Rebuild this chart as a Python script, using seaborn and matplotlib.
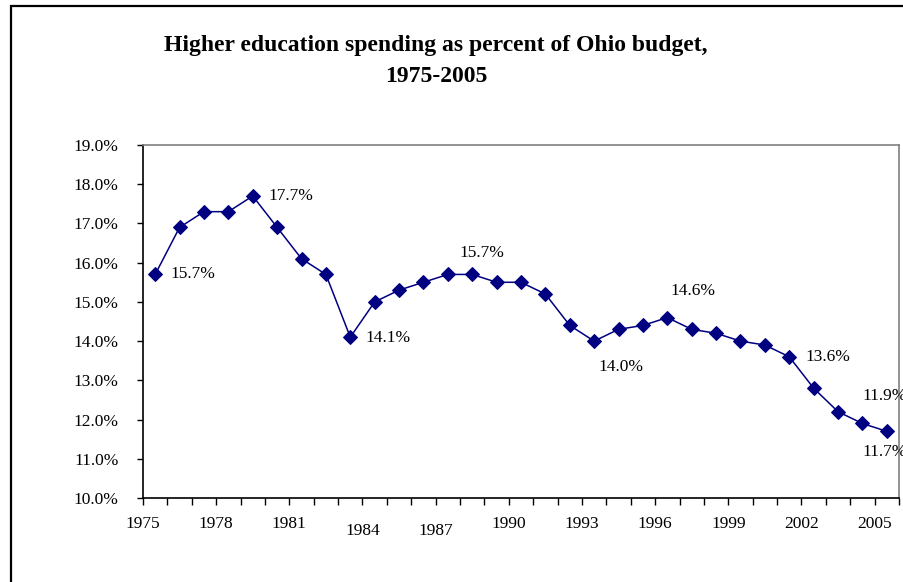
import numpy as np
import pandas as pd
import seaborn as sns
import matplotlib.pyplot as plt
from matplotlib.patches import Rectangle
from matplotlib.ticker import FixedLocator, FuncFormatter

# data
years = list(range(1975, 2006))
share = [15.7, 16.9, 17.3, 17.3, 17.7, 16.9, 16.1, 15.7, 14.1, 15.0,
         15.3, 15.5, 15.7, 15.7, 15.5, 15.5, 15.2, 14.4, 14.0, 14.3,
         14.4, 14.6, 14.3, 14.2, 14.0, 13.9, 13.6, 12.8, 12.2, 11.9, 11.7]
label_years = [1975, 1978, 1981, 1984, 1987, 1990, 1993, 1996, 1999, 2002, 2005]
annot_years = [1975, 1979, 1983, 1988, 1993, 1996, 2001, 2004, 2005]
y_ticks = [10, 11, 12, 13, 14, 15, 16, 17, 18, 19]

# label offsets in pixels (dx, dy, ha)
annot_offsets = [(15, 0, 'left'), (16, 0, 'left'), (15, -1, 'left'),
                 (10, 21, 'center'), (27, -26, 'center'), (3, 27, 'left'),
                 (16, 0, 'left'), (0, 27, 'left'), (-24, -21, 'left')]

df = pd.DataFrame({'year': years, 'share': share})

sns.set_style("white")
plt.rcParams['font.family'] = ['Liberation Serif', 'DejaVu Serif']
plt.rcParams['text.color'] = 'black'
plt.rcParams['xtick.color'] = 'black'
plt.rcParams['ytick.color'] = 'black'

fig = plt.figure(figsize=(9.04, 5.82), dpi=100)
ax = fig.add_axes([143/904, 84/582, 756/904, 353/582])

sns.lineplot(data=df, x='year', y='share', ax=ax, color='#000080',
             marker='D', markersize=7, markeredgecolor='#000080',
             linewidth=1.1)

ax.set_xlim(1974.5, 2005.5)
ax.set_ylim(10, 19)
ax.set_xlabel('')
ax.set_ylabel('')

# Excel-style category axis: labels sit on the tick marks between categories
ax.xaxis.set_major_locator(FixedLocator([y - 0.5 for y in label_years]))
ax.xaxis.set_major_formatter(FuncFormatter(lambda v, p: str(int(v + 0.5))))
ax.xaxis.set_minor_locator(FixedLocator([y - 0.5 for y in years] + [2005.5]))
ax.yaxis.set_major_locator(FixedLocator(y_ticks))
ax.yaxis.set_major_formatter(FuncFormatter(lambda v, p: f'{v:.1f}%'))

ax.tick_params(axis='x', which='both', direction='out', length=5, width=1,
               color='black', bottom=True, labelsize=12.5, labelcolor='black', pad=8)
ax.tick_params(axis='y', which='major', direction='out', length=4.5, width=1,
               color='black', left=True, labelsize=12.5, labelcolor='black', pad=13)

for t, yr in zip(ax.xaxis.get_major_ticks(), label_years):
    if yr in (1984, 1987):
        t.set_pad(13)

for side in ['left', 'bottom']:
    ax.spines[side].set_color('black')
    ax.spines[side].set_linewidth(1.2)
for side in ['top', 'right']:
    ax.spines[side].set_color('#808080')
    ax.spines[side].set_linewidth(1.2)

for yr, (dx, dy, ha) in zip(annot_years, annot_offsets):
    v = share[years.index(yr)]
    ax.annotate(f'{v:.1f}%', xy=(yr, v), xytext=(dx, dy),
                textcoords='offset pixels', ha=ha, va='center',
                fontsize=12.5, color='black', annotation_clip=False)

fig.text(436/904, 1 - 45/582, 'Higher education spending as percent of Ohio budget,',
         ha='center', va='center', fontsize=17, fontweight='bold', color='black')
fig.text(436/904, 1 - 76/582, '1975-2005',
         ha='center', va='center', fontsize=17, fontweight='bold', color='black')

# outer chart border (cropped at right and bottom)
fig.patches.append(Rectangle((11/904, -0.05), 1.2, 1 - 6/582 + 0.05,
                             transform=fig.transFigure, fill=False,
                             edgecolor='black', linewidth=1.6))

fig.savefig('out.png', dpi=100)
